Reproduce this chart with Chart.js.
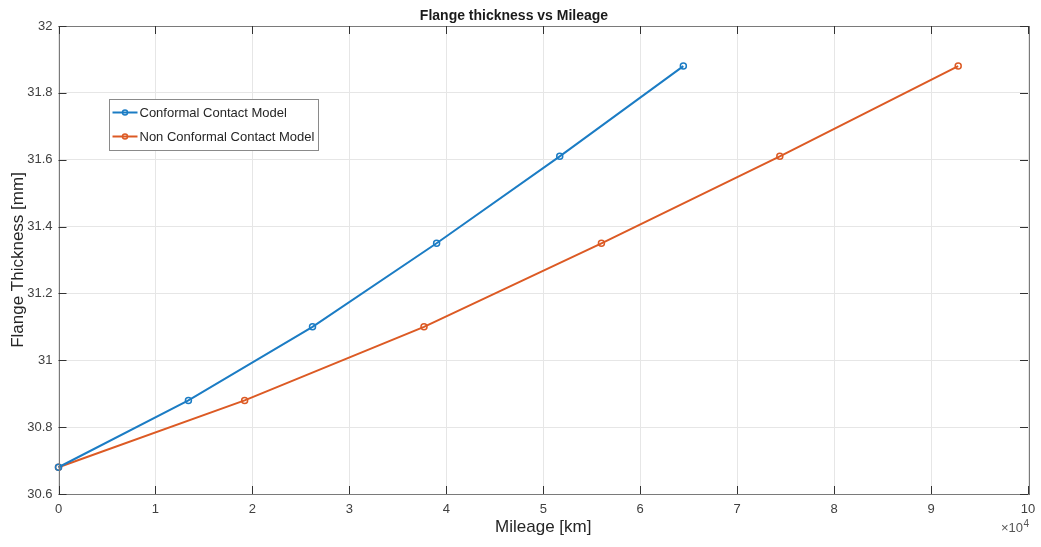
<!DOCTYPE html>
<html>
<head>
<meta charset="utf-8">
<script src="https://cdn.jsdelivr.net/npm/chart.js@4/dist/chart.umd.min.js"></script>
<style>
html,body{margin:0;padding:0;background:#fff;}
#wrap{width:1041px;height:547px;position:relative;}
</style>
</head>
<body>
<div id="wrap"><canvas id="c" width="1041" height="547"></canvas></div>
<script>
// Data (mileage in km, thickness in mm)
const conformalMileage = [0, 13400, 26200, 39000, 51700, 64450];
const conformalThickness = [30.68, 30.88, 31.10, 31.35, 31.61, 31.88];
const nonConformalMileage = [0, 19200, 37700, 56000, 74400, 92800];
const nonConformalThickness = [30.68, 30.88, 31.10, 31.35, 31.61, 31.88];
const seriesNames = ['Conformal Contact Model', 'Non Conformal Contact Model'];
const xTickStep = 10000;
const yTickStep = 0.2;

const BLUE = '#1b7cc4', ORANGE = '#dc5a24';
const FONT = '"Liberation Sans", Arial, Helvetica, sans-serif';

function pts(xs, ys){ return xs.map((x,i)=>({x:x, y:ys[i]})); }

const boxPlugin = {
  id: 'boxPlugin',
  afterDraw(chart){
    const ctx = chart.ctx, a = chart.chartArea;
    const xs = chart.scales.x, ys = chart.scales.y;
    ctx.save();
    // axis box
    ctx.strokeStyle = '#7a7a7a';
    ctx.lineWidth = 1;
    ctx.strokeRect(Math.round(a.left)+0.5, Math.round(a.top)+0.5, Math.round(a.right-a.left), Math.round(a.bottom-a.top));
    // inner ticks
    ctx.strokeStyle = '#333';
    ctx.beginPath();
    const tl = 8;
    xs.ticks.forEach(t=>{
      const px = Math.round(xs.getPixelForValue(t.value))+0.5;
      ctx.moveTo(px, a.bottom); ctx.lineTo(px, a.bottom-tl);
      ctx.moveTo(px, a.top); ctx.lineTo(px, a.top+tl);
    });
    ys.ticks.forEach(t=>{
      const py = Math.round(ys.getPixelForValue(t.value))+0.5;
      ctx.moveTo(a.left, py); ctx.lineTo(a.left+tl, py);
      ctx.moveTo(a.right, py); ctx.lineTo(a.right-tl, py);
    });
    ctx.stroke();
    // exponent label
    ctx.fillStyle = '#555';
    ctx.textBaseline = 'alphabetic';
    ctx.textAlign = 'right';
    ctx.font = '10px ' + FONT;
    ctx.fillText('4', a.right+1, a.bottom + 33);
    ctx.font = '13px ' + FONT;
    ctx.fillText('\u00d710', a.right-5, a.bottom + 38);

    // legend
    const lx = 109.5, ly = 99.5, lw = 209, lh = 51;
    ctx.fillStyle = '#fff';
    ctx.fillRect(lx, ly, lw, lh);
    ctx.strokeStyle = '#8a8a8a';
    ctx.lineWidth = 1;
    ctx.strokeRect(lx, ly, lw, lh);
    chart.data.datasets.forEach((ds, i)=>{
      const yy = ly + 13 + i*24;
      ctx.strokeStyle = ds.borderColor;
      ctx.lineWidth = 2;
      ctx.beginPath(); ctx.moveTo(lx+3, yy); ctx.lineTo(lx+28, yy); ctx.stroke();
      ctx.lineWidth = 1.5;
      ctx.beginPath(); ctx.arc(lx+15.5, yy, 2.5, 0, Math.PI*2); ctx.stroke();
      ctx.fillStyle = '#262626';
      ctx.textAlign = 'left';
      ctx.textBaseline = 'middle';
      ctx.font = '13px ' + FONT;
      ctx.fillText(ds.label, lx+30, yy+0.5);
    });
    ctx.restore();
  }
};

new Chart(document.getElementById('c'), {
  type: 'line',
  data: {
    datasets: [
      { label: seriesNames[0], data: pts(conformalMileage, conformalThickness),
        borderColor: BLUE, backgroundColor: 'rgba(0,0,0,0)', borderWidth: 2,
        pointRadius: 3, pointBorderWidth: 1.5, pointBackgroundColor: 'rgba(255,255,255,0)',
        pointBorderColor: BLUE, tension: 0, clip: false },
      { label: seriesNames[1], data: pts(nonConformalMileage, nonConformalThickness),
        borderColor: ORANGE, backgroundColor: 'rgba(0,0,0,0)', borderWidth: 2,
        pointRadius: 3, pointBorderWidth: 1.5, pointBackgroundColor: 'rgba(255,255,255,0)',
        pointBorderColor: ORANGE, tension: 0, clip: false }
    ]
  },
  options: {
    responsive: false,
    animation: false,
    layout: { padding: { left: 0, right: 13, top: 0, bottom: 0 } },
    plugins: {
      legend: { display: false },
      tooltip: { enabled: false },
      title: { display: true, text: 'Flange thickness vs Mileage', color: '#1a1a1a',
        font: { family: FONT, size: 14, weight: 'bold' }, padding: { top: 8, bottom: 1.2 } }
    },
    scales: {
      x: {
        type: 'linear', min: 0, max: 100000,
        afterFit(s){ s.height = 53; s.paddingLeft = 0; s.paddingRight = 0; },
        ticks: { stepSize: xTickStep, color: '#404040', padding: 8,
          font: { family: FONT, size: 13 }, maxRotation: 0,
          callback: v => String(v / 10000) },
        grid: { color: '#e6e6e6', drawTicks: false },
        border: { display: false },
        title: { display: true, text: 'Mileage [km]', color: '#262626',
          font: { family: FONT, size: 17 }, padding: { top: 2, bottom: 9 } }
      },
      y: {
        type: 'linear', min: 30.6, max: 32,
        afterFit(s){ s.width = 58.5; s.paddingTop = 0; s.paddingBottom = 0; },
        ticks: { stepSize: yTickStep, color: '#404040', padding: 6,
          font: { family: FONT, size: 13 },
          callback: v => String(Number(v.toFixed(1))) },
        grid: { color: '#e6e6e6', drawTicks: false },
        border: { display: false },
        title: { display: true, text: 'Flange Thickness [mm]', color: '#262626',
          font: { family: FONT, size: 17 }, padding: { top: 8, bottom: 4 } }
      }
    }
  },
  plugins: [boxPlugin]
});
</script>
</body>
</html>
